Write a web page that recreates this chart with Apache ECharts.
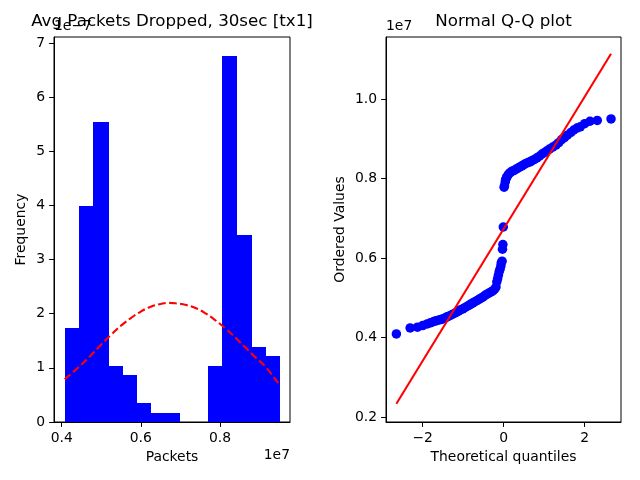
<!DOCTYPE html>
<html><head><meta charset="utf-8">
<script src="https://cdn.jsdelivr.net/npm/echarts@6/dist/echarts.min.js"></script>
<style>html,body{margin:0;padding:0;background:#fff}#c{width:640px;height:480px}</style>
</head><body><div id="c"></div>
<script>
// Histogram (x in units of 1e7, density in units of 1e-7)
const binEdges = [0.4076, 0.4437, 0.4799, 0.5160, 0.5521, 0.5883, 0.6244, 0.6605, 0.6966, 0.7328, 0.7689, 0.8050, 0.8412, 0.8773, 0.9134, 0.9496];
const density = [1.73, 3.98, 5.54, 1.04, 0.865, 0.346, 0.173, 0.173, 0, 0, 1.04, 6.75, 3.46, 1.38, 1.21];
// Normal pdf curve
const curveX = [0.4076, 0.43, 0.45, 0.475, 0.50, 0.525, 0.55, 0.575, 0.60, 0.625, 0.65, 0.67, 0.69, 0.715, 0.74, 0.765, 0.79, 0.815, 0.84, 0.865, 0.89, 0.915, 0.9496];
const curveY = [0.79, 0.93, 1.06, 1.24, 1.43, 1.61, 1.78, 1.92, 2.04, 2.13, 2.18, 2.20, 2.19, 2.16, 2.10, 2.00, 1.87, 1.72, 1.55, 1.37, 1.19, 1.02, 0.69];
// Q-Q plot (ordered values in units of 1e7)
const qqX = [-2.65,-2.31,-2.13,-2.00,-1.89,-1.81,-1.73,-1.67,-1.60,-1.55,-1.50,-1.45,-1.40,-1.33,-1.27,-1.21,-1.16,-1.11,-1.06,-1.01,-0.96,-0.91,-0.86,-0.81,-0.76,-0.71,-0.66,-0.61,-0.56,-0.51,-0.46,-0.41,-0.36,-0.31,-0.26,-0.22,-0.19,-0.17,-0.15,-0.13,-0.11,-0.09,-0.07,-0.06,-0.04,-0.03,-0.02,-0.01,
  0.01,0.02,0.04,0.05,0.07,0.09,0.12,0.16,0.20,0.25,0.30,0.35,0.40,0.45,0.50,0.55,0.60,0.65,0.70,0.76,0.82,0.88,0.94,1.00,1.06,1.13,1.21,1.29,1.36,1.43,1.50,1.57,1.66,1.73,1.81,1.89,2.00,2.13,2.31,2.65];
const qqY = [0.409,0.424,0.426,0.430,0.434,0.437,0.440,0.442,0.444,0.445,0.447,0.449,0.452,0.455,0.458,0.461,0.464,0.467,0.470,0.472,0.475,0.478,0.481,0.484,0.487,0.490,0.493,0.496,0.499,0.502,0.506,0.509,0.512,0.515,0.518,0.522,0.527,0.540,0.548,0.557,0.566,0.572,0.580,0.588,0.592,0.622,0.634,0.678,
  0.778,0.782,0.792,0.798,0.802,0.806,0.811,0.815,0.818,0.820,0.823,0.826,0.829,0.832,0.835,0.838,0.840,0.842,0.845,0.848,0.852,0.856,0.861,0.865,0.869,0.874,0.879,0.884,0.890,0.898,0.903,0.909,0.916,0.922,0.927,0.930,0.938,0.944,0.946,0.950];
const qqLineX = [-2.65, 2.65];
const qqLineY = [0.2335, 1.114];
// Tick labels
const histXTicks = [0.4, 0.6, 0.8];
const histYTicks = [0, 1, 2, 3, 4, 5, 6, 7];
const qqXTicks = [-2, 0, 2];
const qqYTicks = [0.2, 0.4, 0.6, 0.8, 1.0];

const FONT = 'DejaVu Sans';
const TS = 13.9;
const minus = s => String(s).replace('-', '\u2212');

const histData = density.map((d, i) => [binEdges[i], binEdges[i + 1], d]);
const curveData = curveX.map((x, i) => [x, curveY[i]]);
const qqData = qqX.map((x, i) => [x, qqY[i]]);
const qqLine = qqLineX.map((x, i) => [x, qqLineY[i]]);

function axisBase(ticks, fmt) {
  return {
    type: 'value',
    axisLine: { show: true, onZero: false, lineStyle: { color: '#000', width: 1 } },
    axisTick: { show: true, length: 4.9, customValues: ticks, lineStyle: { color: '#000', width: 1 } },
    axisLabel: { customValues: ticks, formatter: fmt, color: '#000', fontFamily: FONT, fontSize: TS, margin: 9 },
    splitLine: { show: false },
    nameTextStyle: { color: '#000', fontFamily: FONT, fontSize: TS },
    nameLocation: 'middle'
  };
}

const chart = echarts.init(document.getElementById('c'), null, { renderer: 'canvas' });
chart.setOption({
  animation: false,
  backgroundColor: '#fff',
  title: [
    { text: 'Avg Packets Dropped, 30sec [tx1]', left: 172, top: 13, textAlign: 'center', padding: 0,
      textStyle: { fontFamily: FONT, fontSize: 16.7, fontWeight: 'normal', color: '#000' } },
    { text: 'Normal Q-Q plot', left: 503.5, top: 13, textAlign: 'center', padding: 0,
      textStyle: { fontFamily: FONT, fontSize: 16.7, fontWeight: 'normal', color: '#000' } }
  ],
  grid: [
    { left: 54, top: 37, width: 236, height: 385, show: true, borderColor: '#000', borderWidth: 1, backgroundColor: 'transparent' },
    { left: 386, top: 37, width: 235, height: 385, show: true, borderColor: '#000', borderWidth: 1, backgroundColor: 'transparent' }
  ],
  xAxis: [
    Object.assign(axisBase(histXTicks, v => v.toFixed(1)), { gridIndex: 0, min: 0.3806, max: 0.977, name: 'Packets', nameGap: 27 }),
    Object.assign(axisBase(qqXTicks, v => minus(v.toFixed(0))), { gridIndex: 1, min: -2.906, max: 2.896, name: 'Theoretical quantiles', nameGap: 27 })
  ],
  yAxis: [
    Object.assign(axisBase(histYTicks, v => v.toFixed(0)), { gridIndex: 0, min: 0, max: 7.11, name: 'Frequency', nameGap: 26 }),
    Object.assign(axisBase(qqYTicks, v => v.toFixed(1)), { gridIndex: 1, min: 0.1874, max: 1.156, name: 'Ordered Values', nameGap: 39 })
  ],
  graphic: [
    { type: 'text', left: 54, top: 19, style: { text: '1e\u22127', font: TS + 'px "' + FONT + '"', fill: '#000' }, z: 1 },
    { type: 'text', right: 350, top: 448, style: { text: '1e7', font: TS + 'px "' + FONT + '"', fill: '#000' } },
    { type: 'text', left: 386, top: 19, style: { text: '1e7', font: TS + 'px "' + FONT + '"', fill: '#000' } }
  ],
  series: [
    {
      type: 'custom', xAxisIndex: 0, yAxisIndex: 0, data: histData,
      encode: { x: [0, 1], y: 2 },
      renderItem: function (params, api) {
        const p0 = api.coord([api.value(0), api.value(2)]);
        const p1 = api.coord([api.value(1), 0]);
        const x0 = Math.round(p0[0]), x1 = Math.round(p1[0]);
        const y0 = Math.round(p0[1]), y1 = Math.round(p1[1]);
        return { type: 'rect', shape: { x: x0, y: y0, width: x1 - x0 + 1, height: y1 - y0 },
          style: { fill: '#0000ff', stroke: null, lineWidth: 0 } };
      }
    },
    {
      type: 'line', xAxisIndex: 0, yAxisIndex: 0, data: curveData, showSymbol: false, smooth: true,
      lineStyle: { color: '#ff0000', width: 2.08, type: [7.7, 3.3] }, z: 5
    },
    {
      type: 'scatter', xAxisIndex: 1, yAxisIndex: 1, data: qqData, symbolSize: 9.5,
      itemStyle: { color: '#0000ff', opacity: 1 }
    },
    {
      type: 'line', xAxisIndex: 1, yAxisIndex: 1, data: qqLine, showSymbol: false,
      lineStyle: { color: '#ff0000', width: 2.08 }, z: 5
    }
  ]
});
</script></body></html>
